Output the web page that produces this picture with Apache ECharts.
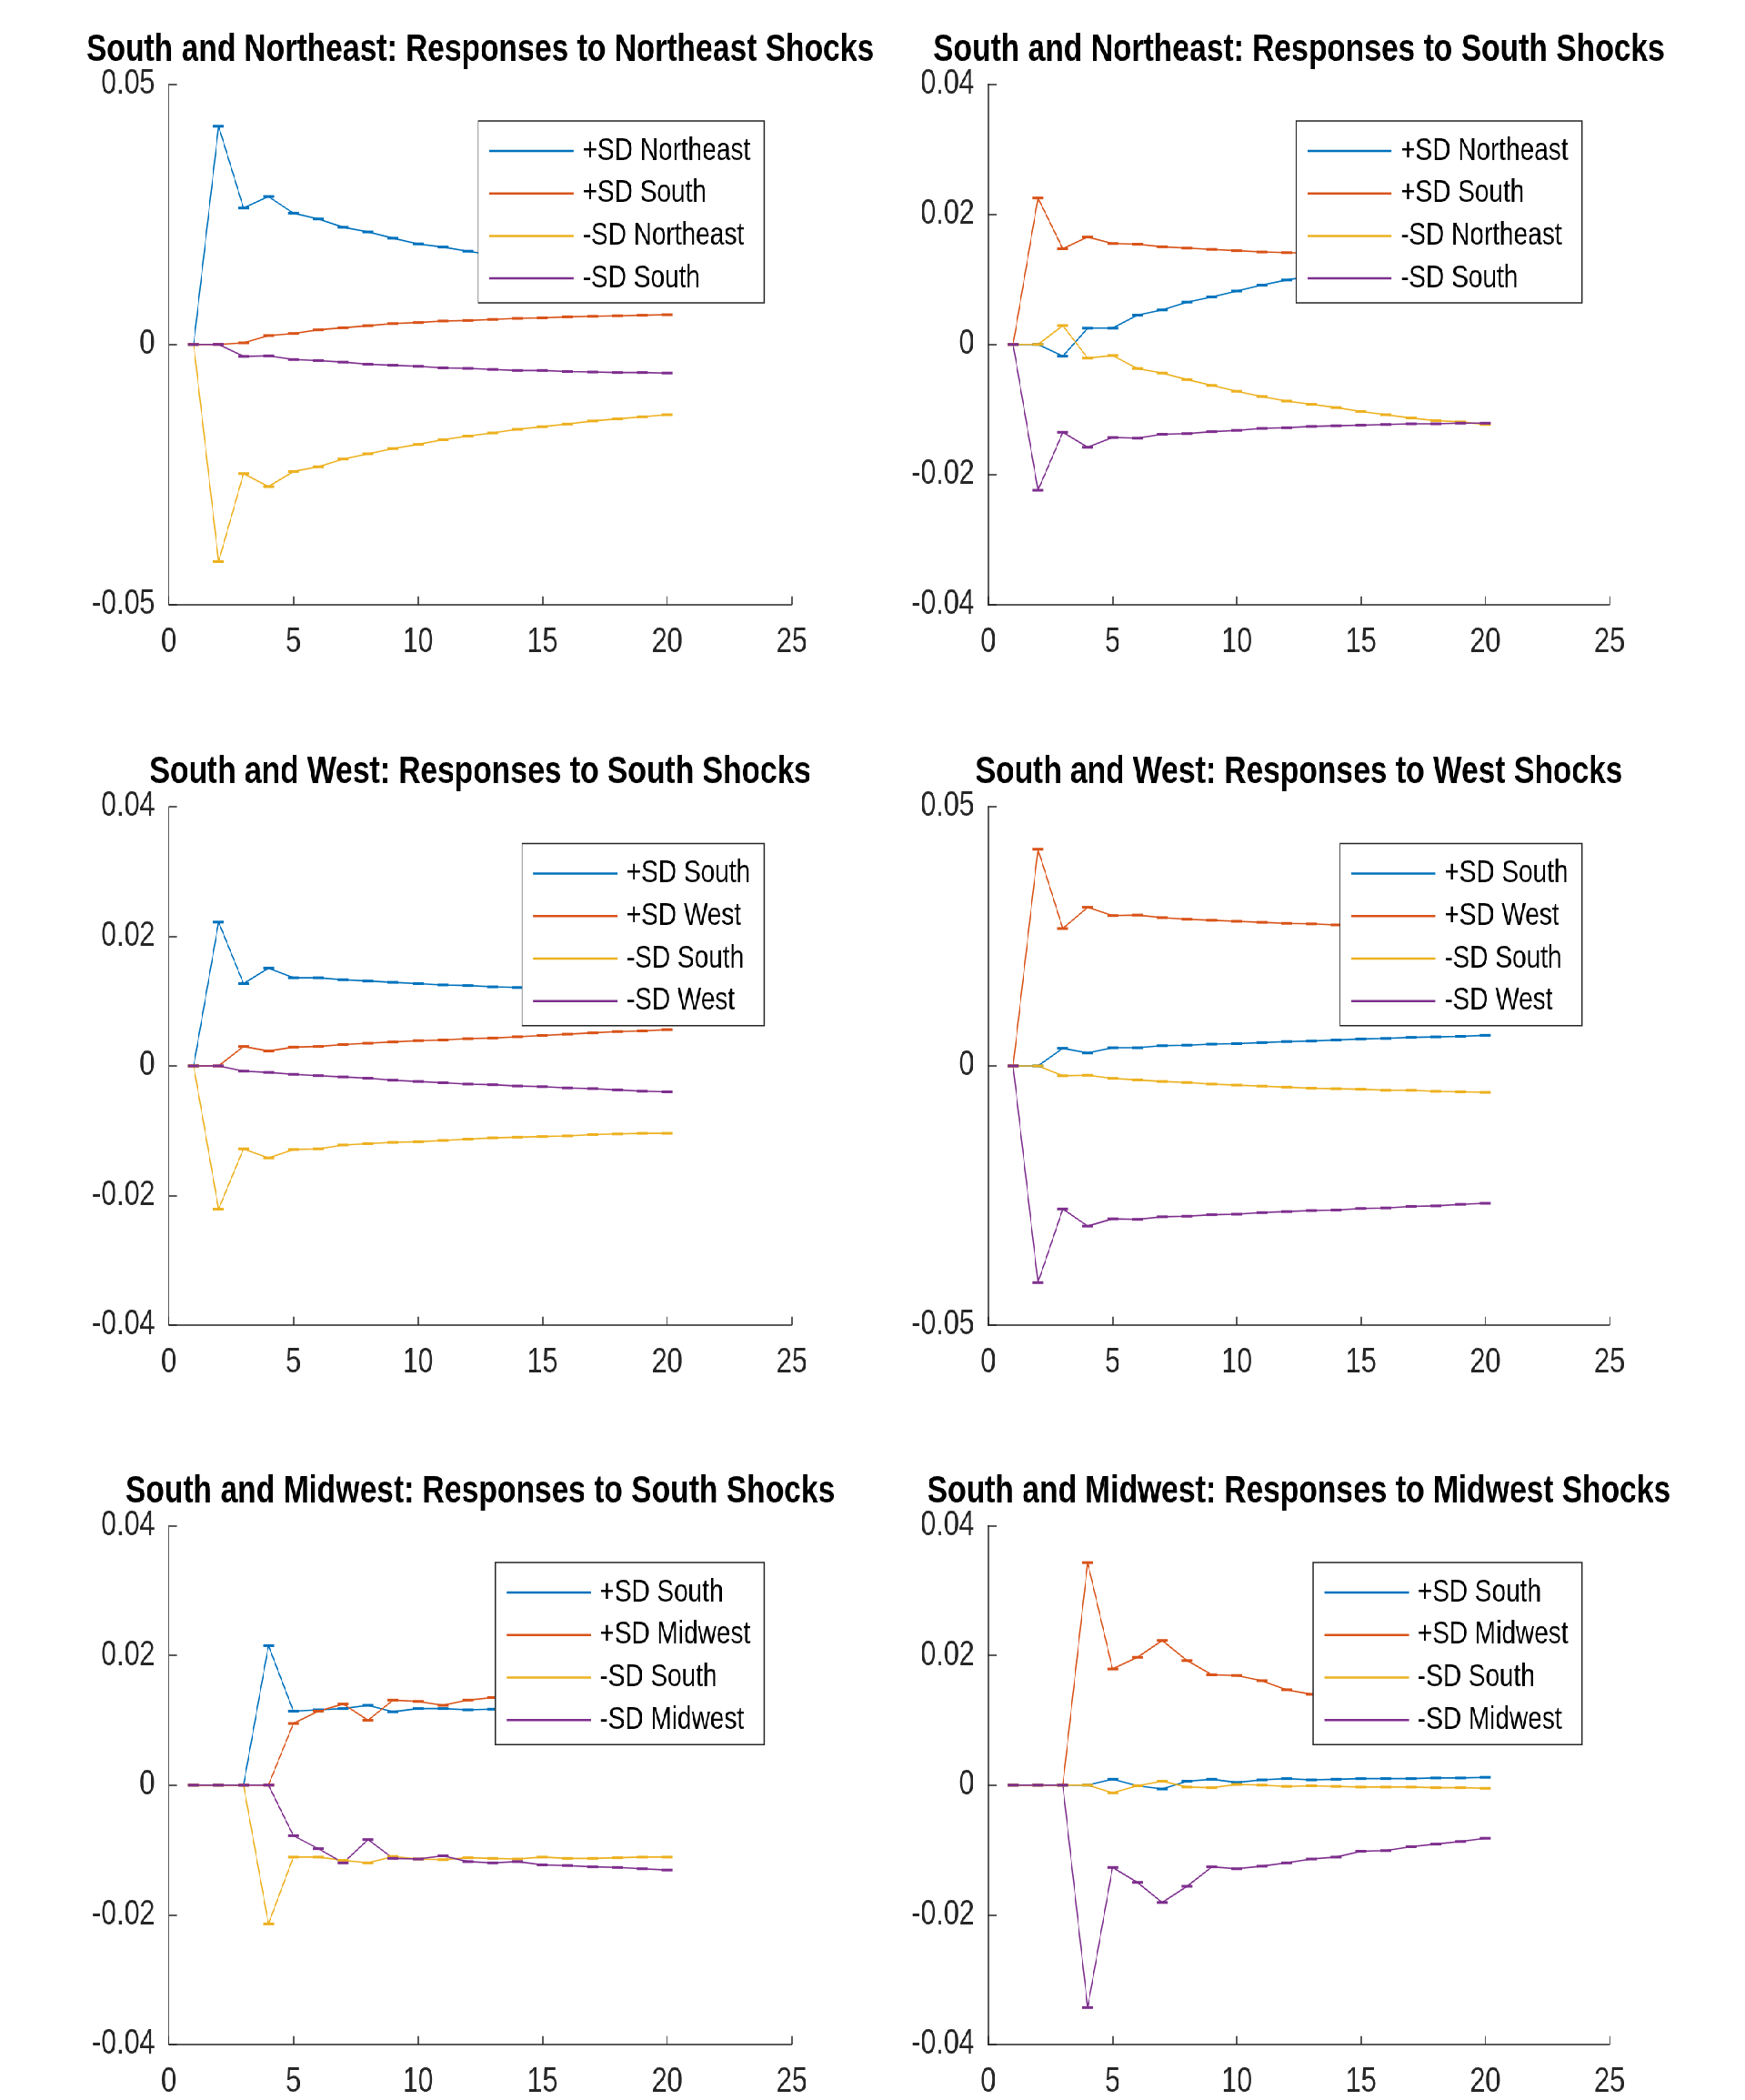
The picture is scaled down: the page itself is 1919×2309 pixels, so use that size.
<!DOCTYPE html>
<html>
<head>
<meta charset="utf-8">
<script src="https://cdn.jsdelivr.net/npm/echarts@6/dist/echarts.min.js"></script>
<style>
    html, body { margin: 0; padding: 0; background: #fff; overflow: hidden; width: 1919px; height: 2309px; }
    /* the original figure is squeezed horizontally, so draw wide and squeeze */
    #stage { position: absolute; left: 0; top: 0; width: 2399px; height: 2309px; transform: scaleX(0.8); transform-origin: 0 0; }
    .panel { position: absolute; }
</style>
</head>
<body>
<div id="stage"></div>
<script>
    const periods = [1, 2, 3, 4, 5, 6, 7, 8, 9, 10, 11, 12, 13, 14, 15, 16, 17, 18, 19, 20]
    const xTicks = [0, 5, 10, 15, 20, 25]

    // South and Northeast: responses to Northeast shocks
    const neShock_posNE = [0, 0.0419, 0.0262, 0.0284, 0.0252, 0.0241, 0.0225, 0.0216, 0.0204, 0.0193, 0.0187, 0.0179, 0.0172, 0.0166, 0.0160, 0.0155, 0.0150, 0.0146, 0.0142, 0.0138]
    const neShock_posS = [0, 0, 0.0003, 0.0017, 0.0021, 0.0028, 0.0032, 0.0036, 0.0040, 0.0042, 0.0045, 0.0046, 0.0048, 0.0050, 0.0051, 0.0053, 0.0054, 0.0055, 0.0056, 0.0057]
    const neShock_negNE = [0, -0.0417, -0.0248, -0.0273, -0.0244, -0.0235, -0.0220, -0.0210, -0.0200, -0.0192, -0.0183, -0.0176, -0.0170, -0.0163, -0.0158, -0.0153, -0.0147, -0.0143, -0.0139, -0.0135]
    const neShock_negS = [0, 0, -0.0023, -0.0022, -0.0029, -0.0031, -0.0034, -0.0038, -0.0040, -0.0042, -0.0045, -0.0046, -0.0048, -0.0050, -0.0050, -0.0052, -0.0053, -0.0054, -0.0054, -0.0055]

    // South and Northeast: responses to South shocks
    const neS_posNE = [0, 0, -0.0018, 0.0025, 0.0025, 0.0045, 0.0053, 0.0065, 0.0073, 0.0082, 0.0091, 0.0099, 0.0105, 0.0111, 0.0116, 0.0121, 0.0126, 0.0130, 0.0133, 0.0137]
    const neS_posS = [0, 0.0225, 0.0147, 0.0165, 0.0155, 0.0154, 0.0150, 0.0148, 0.0146, 0.0144, 0.0142, 0.0141, 0.0140, 0.0138, 0.0136, 0.0134, 0.0132, 0.0130, 0.0128, 0.0126]
    const neS_negNE = [0, 0, 0.0029, -0.0021, -0.0017, -0.0037, -0.0044, -0.0054, -0.0063, -0.0072, -0.0080, -0.0087, -0.0092, -0.0097, -0.0103, -0.0108, -0.0113, -0.0117, -0.0119, -0.0123]
    const neS_negS = [0, -0.0224, -0.0135, -0.0158, -0.0143, -0.0144, -0.0138, -0.0137, -0.0134, -0.0132, -0.0129, -0.0128, -0.0126, -0.0125, -0.0124, -0.0123, -0.0122, -0.0122, -0.0121, -0.0121]

    // South and West: responses to South shocks
    const swS_posS = [0, 0.0222, 0.0127, 0.0151, 0.0136, 0.0136, 0.0133, 0.0131, 0.0129, 0.0127, 0.0125, 0.0124, 0.0122, 0.0121, 0.0120, 0.0119, 0.0118, 0.0117, 0.0116, 0.0115]
    const swS_posW = [0, 0, 0.0030, 0.0023, 0.0029, 0.0030, 0.0033, 0.0035, 0.0037, 0.0039, 0.0040, 0.0042, 0.0043, 0.0045, 0.0047, 0.0049, 0.0051, 0.0053, 0.0054, 0.0056]
    const swS_negS = [0, -0.0221, -0.0128, -0.0142, -0.0129, -0.0128, -0.0122, -0.0120, -0.0118, -0.0117, -0.0115, -0.0113, -0.0111, -0.0110, -0.0109, -0.0108, -0.0106, -0.0105, -0.0104, -0.0104]
    const swS_negW = [0, 0, -0.0008, -0.0010, -0.0013, -0.0015, -0.0017, -0.0019, -0.0022, -0.0024, -0.0026, -0.0028, -0.0029, -0.0031, -0.0032, -0.0034, -0.0035, -0.0037, -0.0039, -0.0040]

    // South and West: responses to West shocks
    const swW_posS = [0, 0, 0.0034, 0.0025, 0.0035, 0.0035, 0.0039, 0.0040, 0.0042, 0.0043, 0.0045, 0.0047, 0.0048, 0.0050, 0.0052, 0.0053, 0.0055, 0.0056, 0.0057, 0.0059]
    const swW_posW = [0, 0.0418, 0.0265, 0.0306, 0.0290, 0.0291, 0.0286, 0.0283, 0.0281, 0.0279, 0.0277, 0.0275, 0.0274, 0.0272, 0.0270, 0.0268, 0.0266, 0.0264, 0.0262, 0.0260]
    const swW_negS = [0, 0, -0.0019, -0.0018, -0.0024, -0.0027, -0.0030, -0.0032, -0.0035, -0.0037, -0.0039, -0.0041, -0.0043, -0.0044, -0.0045, -0.0047, -0.0047, -0.0049, -0.0050, -0.0051]
    const swW_negW = [0, -0.0418, -0.0276, -0.0309, -0.0295, -0.0296, -0.0291, -0.0290, -0.0287, -0.0286, -0.0283, -0.0281, -0.0279, -0.0278, -0.0275, -0.0274, -0.0271, -0.0270, -0.0267, -0.0265]

    // South and Midwest: responses to South shocks
    const smS_posS = [0, 0, 0, 0.0215, 0.0114, 0.0116, 0.0118, 0.0123, 0.0113, 0.0118, 0.0118, 0.0116, 0.0117, 0.0117, 0.0116, 0.0117, 0.0116, 0.0116, 0.0116, 0.0116]
    const smS_posM = [0, 0, 0, 0, 0.0095, 0.0114, 0.0125, 0.0100, 0.0131, 0.0129, 0.0123, 0.0131, 0.0135, 0.0137, 0.0139, 0.0141, 0.0143, 0.0145, 0.0147, 0.0149]
    const smS_negS = [0, 0, 0, -0.0214, -0.0111, -0.0111, -0.0116, -0.0120, -0.0110, -0.0114, -0.0115, -0.0112, -0.0113, -0.0114, -0.0111, -0.0113, -0.0113, -0.0112, -0.0111, -0.0111]
    const smS_negM = [0, 0, 0, 0, -0.0078, -0.0098, -0.0120, -0.0084, -0.0113, -0.0114, -0.0109, -0.0118, -0.0120, -0.0118, -0.0123, -0.0124, -0.0126, -0.0127, -0.0129, -0.0131]

    // South and Midwest: responses to Midwest shocks
    const smM_posS = [0, 0, 0, 0, 0.0009, -0.0001, -0.0006, 0.0006, 0.0009, 0.0004, 0.0008, 0.0010, 0.0008, 0.0009, 0.0010, 0.0010, 0.0010, 0.0011, 0.0011, 0.0012]
    const smM_posM = [0, 0, 0, 0.0343, 0.0179, 0.0197, 0.0223, 0.0192, 0.0170, 0.0169, 0.0161, 0.0147, 0.0140, 0.0137, 0.0128, 0.0127, 0.0121, 0.0117, 0.0113, 0.0108]
    const smM_negS = [0, 0, 0, 0, -0.0012, -0.0001, 0.0006, -0.0003, -0.0004, 0.0001, 0.0000, -0.0002, -0.0001, -0.0002, -0.0003, -0.0003, -0.0003, -0.0004, -0.0004, -0.0005]
    const smM_negM = [0, 0, 0, -0.0343, -0.0127, -0.0150, -0.0181, -0.0156, -0.0126, -0.0129, -0.0125, -0.0120, -0.0114, -0.0111, -0.0102, -0.0101, -0.0095, -0.0091, -0.0087, -0.0082]

    const colors = ['#0072BD', '#D95319', '#EDB120', '#7E2F8E']
    const axisColor = '#262626'
    const font = '"Liberation Sans", Arial, Helvetica, sans-serif'

    const panels = [
        { title: 'South and Northeast: Responses to Northeast Shocks', col: 0, row: 0, yMax: 0.05, yStep: 0.05,
          names: ['+SD Northeast', '+SD South', '-SD Northeast', '-SD South'], data: [neShock_posNE, neShock_posS, neShock_negNE, neShock_negS] },
        { title: 'South and Northeast: Responses to South Shocks', col: 1, row: 0, yMax: 0.04, yStep: 0.02,
          names: ['+SD Northeast', '+SD South', '-SD Northeast', '-SD South'], data: [neS_posNE, neS_posS, neS_negNE, neS_negS] },
        { title: 'South and West: Responses to South Shocks', col: 0, row: 1, yMax: 0.04, yStep: 0.02,
          names: ['+SD South', '+SD West', '-SD South', '-SD West'], data: [swS_posS, swS_posW, swS_negS, swS_negW] },
        { title: 'South and West: Responses to West Shocks', col: 1, row: 1, yMax: 0.05, yStep: 0.05,
          names: ['+SD South', '+SD West', '-SD South', '-SD West'], data: [swW_posS, swW_posW, swW_negS, swW_negW] },
        { title: 'South and Midwest: Responses to South Shocks', col: 0, row: 2, yMax: 0.04, yStep: 0.02,
          names: ['+SD South', '+SD Midwest', '-SD South', '-SD Midwest'], data: [smS_posS, smS_posM, smS_negS, smS_negM] },
        { title: 'South and Midwest: Responses to Midwest Shocks', col: 1, row: 2, yMax: 0.04, yStep: 0.02,
          names: ['+SD South', '+SD Midwest', '-SD South', '-SD Midwest'], data: [smM_posS, smM_posM, smM_negS, smM_negM] }
    ]

    // panel boxes in unsqueezed pixels
    const colBox = [
        { left: 0, width: 1200, gridLeft: 232, gridWidth: 856.4, legendRight: 149.6 },
        { left: 1200, width: 1199, gridLeft: 158.5, gridWidth: 854.2, legendRight: 224.3 }
    ]
    const rowTop = [0, 794, 1585]
    const gridTop = [92.4, 93, 92.5]
    const gridHeight = [572.6, 570, 570.5]

    const stage = document.getElementById('stage')

    panels.forEach((p, i) => {
        let c = colBox[p.col]
        let div = document.createElement('div')
        div.className = 'panel'
        div.style.left = c.left + 'px'
        div.style.top = rowTop[p.row] + 'px'
        div.style.width = c.width + 'px'
        div.style.height = (p.row === 2 ? 724 : 745) + 'px'
        stage.appendChild(div)

        let chart = echarts.init(div)
        let gTop = gridTop[p.row]
        let option = {
            animation: false,
            title: {
                text: p.title,
                left: c.gridLeft + c.gridWidth / 2,
                top: 34,
                textAlign: 'center',
                padding: 0,
                textStyle: { fontSize: 42, fontWeight: 'bold', color: '#000', fontFamily: font }
            },
            grid: { left: c.gridLeft, top: gTop, width: c.gridWidth, height: gridHeight[p.row] },
            legend: {
                orient: 'vertical',
                right: c.legendRight,
                top: gTop + 40.6,
                backgroundColor: '#fff',
                borderColor: axisColor,
                borderWidth: 1.5,
                borderRadius: 0,
                padding: [13, 19, 7, 15.5],
                itemWidth: 116,
                itemHeight: 2.5,
                itemGap: 6.7,
                icon: 'rect',
                data: p.names.map((n, k) => ({ name: n, itemStyle: { color: colors[k] } })),
                textStyle: { fontSize: 35, color: '#000', fontFamily: font, lineHeight: 40, padding: [0, 0, 0, 7] }
            },
            xAxis: {
                type: 'value',
                min: xTicks[0],
                max: xTicks[xTicks.length - 1],
                interval: 5,
                splitLine: { show: false },
                axisLine: { onZero: false, lineStyle: { color: axisColor, width: 1.5 } },
                axisTick: { inside: true, length: 9.3, lineStyle: { color: axisColor, width: 1.5 } },
                axisLabel: { fontSize: 38, margin: 23, color: axisColor, fontFamily: font }
            },
            yAxis: {
                type: 'value',
                min: -p.yMax,
                max: p.yMax,
                interval: p.yStep,
                splitLine: { show: false },
                axisLine: { show: true, onZero: false, lineStyle: { color: axisColor, width: 1.5 } },
                axisTick: { show: true, inside: true, length: 11.6, lineStyle: { color: axisColor, width: 1.5 } },
                axisLabel: {
                    fontSize: 38, margin: 19, color: axisColor, fontFamily: font,
                    formatter: v => String(Math.round(v * 100) / 100)
                }
            },
            series: p.data.map((vals, k) => ({
                name: p.names[k],
                type: 'line',
                data: periods.map((t, j) => [t, vals[j]]),
                symbol: 'rect',
                symbolSize: [15, 3],
                showAllSymbol: true,
                color: colors[k],
                itemStyle: { color: colors[k] },
                lineStyle: { color: colors[k], width: 1.6 },
                emphasis: { disabled: true }
            }))
        }
        chart.setOption(option)
    })
</script>
</body>
</html>
